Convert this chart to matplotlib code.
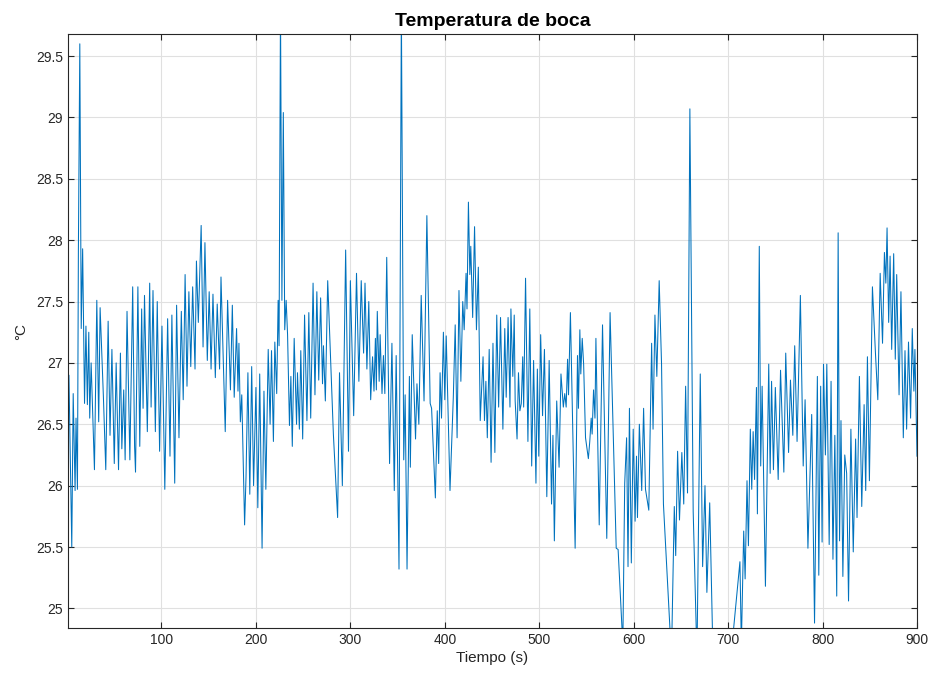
import matplotlib
matplotlib.use("Agg")
import matplotlib.pyplot as plt

plt.rcParams['font.family'] = ['Liberation Sans', 'DejaVu Sans']

# Time (s) and mouth temperature (°C) (local extrema of the trace)
tiempo = [
    1, 2, 5, 6.5, 8.5, 9.5, 11, 12, 13.5, 15, 16.5, 18.5, 20, 21.5, 23, 24, 25.5, 29, 31.5, 33.5,
    35, 38.5, 41, 43.5, 45.5, 47.5, 50, 52, 54.5, 56.5, 58, 60, 61.5, 63.5, 66.5, 69.5, 71.5, 72.5,
    75, 77, 79, 80.5, 82, 85, 87.5, 89, 91, 93.5, 95.5, 98, 100.5, 103.5, 106.5, 109, 111, 114,
    116, 118.5, 121, 123, 125, 127, 129, 131, 133, 135.5, 137, 139, 142, 144, 146, 148.5, 150.5,
    152.5, 154.5, 157, 159, 161.5, 163, 167.5, 170, 173, 175, 177, 179.5, 181, 182, 183.5, 185,
    188, 189.5, 191.5, 193.5, 195.5, 197.5, 200, 202, 204, 206.5, 208.5, 210.5, 213, 215, 216.5,
    218.5, 220, 222, 223.5, 224.5, 226, 227.5, 229, 230.5, 232, 233.5, 235.5, 237, 238.5, 240.5,
    243, 244, 246, 247.5, 249.5, 251.5, 254, 256, 258, 260.5, 262.5, 264.5, 266.5, 268.5, 270.5,
    271.5, 273.5, 276, 282, 286.5, 288.5, 291.5, 295, 298, 300, 303.5, 306.5, 309, 311.5, 314,
    315.5, 317.5, 319.5, 321.5, 323.5, 325, 326.5, 327.5, 328.5, 330.5, 331.5, 333.5, 335, 336.5,
    338.5, 341.5, 344, 346.5, 348.5, 351.5, 354, 356.5, 358, 360, 362.5, 363.5, 365.5, 369, 370.5,
    372.5, 375, 378, 381, 384.5, 386, 390, 392, 393.5, 395, 396.5, 398.5, 400, 401.5, 405.5, 409,
    411, 413, 415, 417, 419, 420.5, 422.5, 423.5, 425, 426.5, 427.5, 429.5, 431.5, 433.5, 435.5,
    437.5, 440.5, 442, 443.5, 445, 447, 449, 451, 453, 455, 457, 459, 461.5, 463.5, 465, 467, 469,
    470, 472, 473.5, 474.5, 476.5, 478, 479.5, 481, 482.5, 483.5, 485.5, 488, 490, 492, 494, 496.5,
    498, 499.5, 501.5, 503.5, 505.5, 508, 510.5, 513, 514.5, 516, 518.5, 521, 523, 525.5, 527,
    528.5, 530, 531, 533, 538, 540.5, 541.5, 543, 544, 545.5, 547, 549, 552, 553.5, 555, 556,
    557.5, 559, 560, 563.5, 567, 571.5, 575, 581.5, 583.5, 586, 588.5, 590.5, 592.5, 594, 595.5,
    597.5, 599.5, 601.5, 603, 604, 606, 608.5, 610.5, 612.5, 616, 619, 620.5, 622.5, 624.5, 627,
    629.5, 631.5, 640, 643, 644.5, 646.5, 648.5, 651, 653, 655, 657, 659.5, 663, 667, 670.5, 673,
    675.5, 677.5, 680.5, 684, 698, 712.5, 714, 716.5, 718, 720, 721.5, 723.5, 725, 726.5, 728,
    730, 731, 733, 734.5, 736, 739.5, 743, 744.5, 746, 748, 750, 753, 755.5, 759, 761, 764, 766,
    768.5, 770.5, 773, 774.5, 776.5, 779.5, 781.5, 784.5, 788.5, 791.5, 794.5, 796, 798, 799.5,
    801, 803, 804.5, 807, 809, 811, 813, 815, 816.5, 818, 819.5, 821.5, 823.5, 825.5, 827.5, 830,
    832.5, 835, 836.5, 839, 841.5, 844, 845.7, 847.5, 849.6, 852.8, 856, 858.5, 861, 863.5, 865.5,
    867, 868.3, 870, 871.5, 873.2, 875.3, 877, 878.5, 881, 883, 885.5, 887.3, 889, 891, 893.2,
    895, 896.7, 897.8, 900,
]
temperatura = [
    26.3, 26.9, 25.5, 26.75, 25.96, 26.55, 25.97, 27.92, 29.6, 27.28, 27.93, 26.67, 27.3, 26.66,
    27.25, 26.55, 27.0, 26.13, 27.51, 26.52, 27.45, 26.72, 26.13, 27.34, 26.41, 27.11, 26.18,
    27.0, 26.13, 27.08, 26.3, 26.78, 26.21, 27.42, 26.21, 27.62, 26.32, 26.11, 27.62, 26.32,
    27.44, 26.63, 27.55, 26.44, 27.65, 26.64, 27.59, 26.44, 27.5, 26.28, 27.3, 25.97, 27.36,
    26.24, 27.39, 26.02, 27.47, 26.39, 27.42, 26.7, 27.72, 26.81, 27.58, 26.97, 27.62, 26.95,
    27.83, 27.33, 28.12, 27.13, 27.98, 27.02, 27.58, 26.95, 27.56, 26.88, 27.48, 26.95, 27.7,
    26.44, 27.51, 26.78, 27.47, 26.72, 27.28, 26.77, 27.16, 26.52, 26.74, 25.68, 26.07, 26.92,
    25.93, 26.97, 26.0, 26.8, 25.82, 26.91, 25.49, 26.77, 25.97, 27.11, 26.5, 27.1, 26.36, 27.17,
    26.75, 27.51, 27.14, 29.9, 27.51, 29.04, 27.27, 27.51, 27.23, 26.49, 26.89, 26.32, 27.2, 26.5,
    26.92, 26.46, 27.1, 26.38, 27.39, 26.53, 27.41, 26.55, 27.65, 26.74, 27.58, 26.86, 27.53,
    26.83, 27.14, 26.69, 27.67, 26.42, 25.74, 26.92, 26.0, 27.92, 26.28, 27.67, 26.57, 27.73,
    26.85, 27.67, 27.08, 27.65, 26.95, 27.5, 26.7, 27.05, 26.77, 27.2, 26.78, 27.42, 26.85, 27.23,
    26.75, 27.06, 26.75, 27.86, 26.18, 27.16, 25.96, 27.06, 25.32, 29.9, 26.21, 26.74, 25.32,
    26.89, 26.15, 27.23, 26.38, 26.83, 26.5, 27.55, 26.69, 28.2, 26.67, 26.63, 25.9, 26.61, 26.18,
    26.92, 26.55, 27.25, 26.7, 27.22, 25.96, 26.72, 27.31, 26.39, 27.59, 26.85, 27.5, 27.27, 27.73,
    27.44, 28.31, 27.72, 27.95, 27.37, 28.11, 27.27, 27.78, 26.53, 27.05, 26.53, 26.85, 26.39,
    27.11, 26.19, 27.16, 26.27, 27.39, 26.64, 27.37, 26.46, 27.28, 26.72, 27.37, 26.64, 27.44,
    26.89, 27.39, 26.69, 26.38, 26.92, 26.61, 26.67, 27.05, 26.64, 27.69, 26.36, 27.44, 26.16,
    27.02, 26.02, 26.95, 26.24, 27.23, 26.57, 27.11, 25.91, 27.02, 25.85, 26.41, 25.55, 26.69,
    26.15, 26.91, 26.64, 26.75, 26.64, 27.03, 26.74, 27.41, 25.49, 27.06, 26.63, 27.27, 26.91,
    27.2, 26.99, 26.39, 26.22, 26.36, 26.55, 26.42, 26.78, 26.55, 27.2, 25.68, 27.31, 25.57,
    27.41, 25.49, 25.48, 25.09, 24.7, 26.02, 26.39, 25.34, 26.63, 25.37, 26.46, 25.71, 26.24,
    25.74, 26.5, 25.96, 26.63, 25.97, 25.8, 27.16, 26.46, 27.39, 26.89, 27.67, 26.99, 25.85, 24.6,
    25.83, 25.43, 26.28, 25.72, 26.27, 25.85, 26.81, 25.94, 29.07, 25.79, 24.6, 26.91, 25.34, 26.0,
    25.13, 25.86, 24.6, 24.2, 25.38, 24.7, 25.63, 25.24, 26.04, 25.51, 26.46, 25.97, 26.44, 26.05,
    26.8, 25.77, 27.95, 26.16, 26.81, 25.18, 26.99, 26.1, 26.85, 26.13, 26.8, 26.05, 26.94, 26.11,
    27.08, 26.27, 26.86, 26.41, 27.14, 26.36, 26.85, 27.55, 26.16, 26.7, 25.49, 26.58, 24.88,
    26.89, 25.27, 26.81, 25.54, 26.99, 26.25, 26.99, 25.52, 26.85, 25.4, 26.41, 25.1, 28.06, 25.55,
    26.53, 25.26, 26.25, 26.1, 25.06, 26.46, 25.46, 26.38, 25.74, 26.89, 25.83, 26.66, 25.96,
    27.05, 26.04, 27.62, 27.08, 26.7, 27.73, 27.16, 27.9, 27.65, 28.1, 27.33, 27.87, 27.11, 27.89,
    27.03, 27.72, 26.74, 27.58, 26.39, 27.1, 26.46, 27.17, 26.55, 27.28, 26.77, 27.11, 26.24,
]

x_ticks = [100, 200, 300, 400, 500, 600, 700, 800, 900]
y_ticks = [25, 25.5, 26, 26.5, 27, 27.5, 28, 28.5, 29, 29.5]
y_tick_labels = ["25", "25.5", "26", "26.5", "27", "27.5", "28", "28.5", "29", "29.5"]

fig = plt.figure(figsize=(9.34, 6.79), dpi=100)
fig.patch.set_facecolor("white")
ax = fig.add_axes([68 / 934, 1 - 628 / 679, (917 - 68) / 934, (628 - 34) / 679])

ax.plot(tiempo, temperatura, color="#0072BD", linewidth=0.75)

ax.set_xlim(1, 900)
ax.set_ylim(24.84, 29.68)
ax.set_xticks(x_ticks)
ax.set_xticklabels([str(v) for v in x_ticks])
ax.set_yticks(y_ticks)
ax.set_yticklabels(y_tick_labels)

ax.grid(True, color="#e0e0e0", linewidth=0.8)
ax.set_axisbelow(True)
for s in ax.spines.values():
    s.set_color("#262626")
    s.set_linewidth(0.8)
ax.tick_params(direction="in", top=True, right=True, length=4, width=0.8,
               colors="#262626", labelsize=10, labelcolor="#262626")

ax.set_title("Temperatura de boca", fontsize=14, fontweight="bold", color="black", pad=6)
ax.set_xlabel("Tiempo (s)", fontsize=11, color="#262626", labelpad=3)
ax.set_ylabel("°C", fontsize=11, color="#262626", labelpad=6)

fig.savefig("out.png", dpi=100, facecolor="white")
